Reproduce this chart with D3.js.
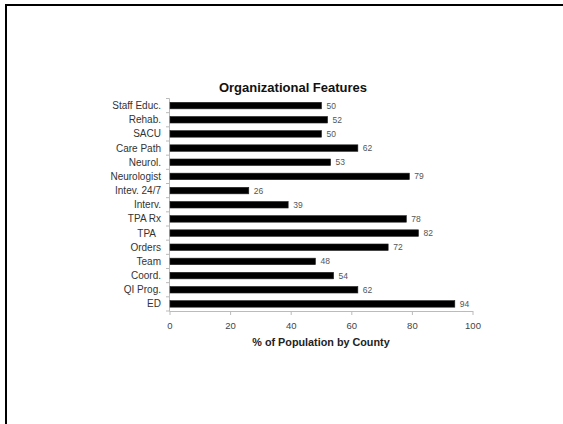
<!DOCTYPE html>
<html>
<head>
<meta charset="utf-8">
<script src="https://cdn.jsdelivr.net/npm/d3@7"></script>
<style>
  html, body { margin: 0; padding: 0; background: #fff; }
  text { font-family: "Liberation Sans", Arial, sans-serif; }
</style>
</head>
<body>
<svg id="chart" width="563" height="424"></svg>
<script>
// Organizational features, top to bottom as shown
const categories = ["Staff Educ.", "Rehab.", "SACU", "Care Path", "Neurol.", "Neurologist",
  "Intev. 24/7", "Interv.", "TPA Rx", "TPA  ", "Orders", "Team", "Coord.", "QI Prog.", "ED"];
const values = [50, 52, 50, 62, 53, 79, 26, 39, 78, 82, 72, 48, 54, 62, 94];
const xTicks = [0, 20, 40, 60, 80, 100];

const svg = d3.select("#chart");

// slide frame: top and left edges only
svg.append("line").attr("x1", 5).attr("x2", 563).attr("y1", 5).attr("y2", 5)
  .attr("stroke", "#000").attr("stroke-width", 2);
svg.append("line").attr("x1", 6).attr("x2", 6).attr("y1", 4).attr("y2", 424)
  .attr("stroke", "#000").attr("stroke-width", 2);

const plotLeft = 170, plotRight = 473, plotTop = 98.5, plotBottom = 311;

const x = d3.scaleLinear().domain([0, 100]).range([plotLeft, plotRight]);
const y = d3.scaleBand().domain(d3.range(categories.length)).range([plotTop, plotBottom])
  .paddingInner(0.54).paddingOuter(0.27);

// axes
const axisColor = "#bbb";
svg.append("line").attr("x1", plotLeft - 0.5).attr("x2", plotLeft - 0.5).attr("y1", plotTop).attr("y2", plotBottom)
  .attr("stroke", axisColor);
svg.append("line").attr("x1", plotLeft - 0.5).attr("x2", plotRight).attr("y1", plotBottom + 0.5).attr("y2", plotBottom + 0.5)
  .attr("stroke", axisColor);

// category boundary ticks
const step = (plotBottom - plotTop) / categories.length;
svg.selectAll(null).data(d3.range(categories.length + 1)).enter().append("line")
  .attr("x1", plotLeft - 4).attr("x2", plotLeft - 0.5)
  .attr("y1", i => plotTop + i * step).attr("y2", i => plotTop + i * step)
  .attr("stroke", axisColor);

// x ticks
svg.selectAll(null).data(xTicks).enter().append("line")
  .attr("x1", d => x(d)).attr("x2", d => x(d))
  .attr("y1", plotBottom).attr("y2", plotBottom + 4)
  .attr("stroke", axisColor);
svg.selectAll(null).data(xTicks).enter().append("text")
  .attr("x", d => x(d)).attr("y", 328.5)
  .attr("text-anchor", "middle").attr("font-size", 9.5).attr("fill", "#444")
  .text(d => d);

// bars
svg.selectAll(null).data(values).enter().append("rect")
  .attr("x", plotLeft).attr("y", (d, i) => y(i))
  .attr("width", d => x(d) - plotLeft).attr("height", y.bandwidth())
  .attr("fill", "#000").attr("stroke", "#222").attr("stroke-width", 0.6);

// value labels
svg.selectAll(null).data(values).enter().append("text")
  .attr("x", d => x(d) + 5).attr("y", (d, i) => y(i) + y.bandwidth() / 2 + 3)
  .attr("font-size", 8.5).attr("fill", "#555")
  .text(d => d);

// category labels
svg.selectAll(null).data(categories).enter().append("text")
  .attr("x", 161).attr("y", (d, i) => y(i) + y.bandwidth() / 2 + 3.5)
  .attr("text-anchor", "end").attr("font-size", 10).attr("fill", "#333")
  .style("white-space", "pre")
  .text(d => d);

// title
svg.append("text").attr("x", 293).attr("y", 92)
  .attr("text-anchor", "middle").attr("font-size", 13).attr("font-weight", "bold").attr("fill", "#111")
  .text("Organizational Features");

// axis title
svg.append("text").attr("x", 321).attr("y", 346)
  .attr("text-anchor", "middle").attr("font-size", 10.8).attr("font-weight", "bold").attr("fill", "#222")
  .text("% of Population by County");
</script>
</body>
</html>
